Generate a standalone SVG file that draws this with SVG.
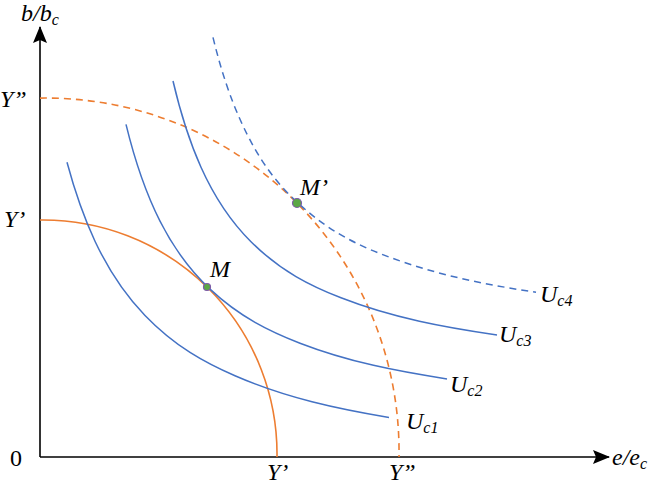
<svg xmlns="http://www.w3.org/2000/svg" width="650" height="485" viewBox="0 0 650 485">
<style>
.ax{stroke:#000;stroke-width:1.6;fill:none}
.blue{stroke:#4472C4;stroke-width:1.5;fill:none}
.orange{stroke:#ED7D31;stroke-width:1.6;fill:none}
.dash{stroke-dasharray:7,5}
.pt{fill:#5BA845;stroke:#7E5BA8;stroke-width:1.2}
text{font-family:"Liberation Serif","Times New Roman",serif;font-size:24px;fill:#000}
.it{font-style:italic}
.sub{font-size:16px}
</style>
<defs>
<marker id="arr" viewBox="0 0 17 14" refX="16" refY="7" markerWidth="17" markerHeight="14" markerUnits="userSpaceOnUse" orient="auto">
<path d="M0,0 L17,7 L0,14 L3,7 z" fill="#000"/>
</marker>
</defs>
<g id="axes">
<line class="ax" x1="40" y1="457" x2="40" y2="27" marker-end="url(#arr)"/>
<line class="ax" x1="40" y1="457" x2="609" y2="457" marker-end="url(#arr)"/>
</g>
<g id="ppf">
<path id="Yp" class="orange" d="M40,220 A233.9,233.9 0 0 1 277,457"/>
<path id="Ypp" class="orange dash" d="M40,98.1 A353.5,353.5 0 0 1 399,457"/>
</g>
<g id="indifference">
<path id="Uc1" class="blue" d="M67,162.3 C76.33,197.1 85.67,221.3 95,241.2 C111.67,276.7 128.33,298.2 145,315.5 C175,346.6 205,362.8 235,375.8 C286.33,398.1 337.67,408.9 389,417.5"/>
<path id="Uc2" class="blue" d="M126,124.4 C137.33,170.8 148.67,198.8 160,221.1 C176.67,254 193.33,273.5 210,289.1 C240,317.2 270,331.6 300,343.2 C349,362.1 398,371.4 447,378.9"/>
<path id="Uc3" class="blue" d="M173,81 C182.33,120.8 191.67,146.4 201,167.2 C217.67,204.3 234.33,225.1 251,241.7 C281,271.6 311,286.1 341,297.8 C393.33,318.25 445.67,327.5 497,335"/>
<path id="Uc4" class="blue dash" d="M213,37.4 C222,74.3 231,99.1 240,119.3 C259,162 278,184.3 297,202.1 C331.33,234.3 365.67,249 400,260.95 C445.33,276.75 490.67,285.4 536,292.25"/>
</g>
<g id="points">
<circle id="M" class="pt" cx="207" cy="287" r="3.5"/>
<circle id="Mprime" class="pt" cx="297" cy="203" r="4.5"/>
</g>
<g id="labels">
<text class="it" x="21" y="21">b/b<tspan class="sub" dy="4">c</tspan></text>
<text class="it" x="612" y="465">e/e<tspan class="sub" dy="4">c</tspan></text>
<text x="10" y="466">0</text>
<text class="it" x="0" y="107">Y”</text>
<text class="it" x="4" y="227">Y’</text>
<text class="it" x="267" y="480">Y’</text>
<text class="it" x="389" y="480">Y”</text>
<text class="it" x="210" y="277">M</text>
<text class="it" x="300" y="195">M’</text>
<text class="it" x="540" y="302">U<tspan class="sub" dy="4">c4</tspan></text>
<text class="it" x="499" y="342">U<tspan class="sub" dy="4">c3</tspan></text>
<text class="it" x="450" y="392">U<tspan class="sub" dy="4">c2</tspan></text>
<text class="it" x="406" y="429">U<tspan class="sub" dy="4">c1</tspan></text>
</g>
</svg>
